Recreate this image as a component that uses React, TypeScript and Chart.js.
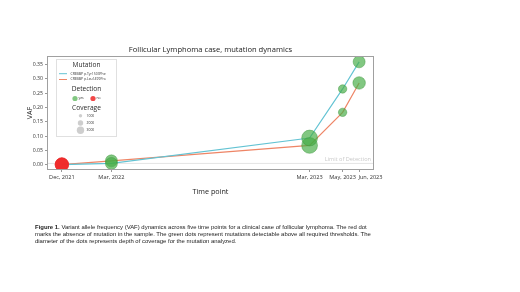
import React, { useEffect, useRef } from "react";
import { Chart, registerables } from "chart.js";

Chart.register(...registerables);

// ---- data ----
const timeLabels = ["Dec, 2021", "Mar, 2022", "Mar, 2023", "May, 2023", "Jun, 2023"];
const timeMonths = [0, 3, 15, 17, 18]; // months since Dec 2021
const vafTyr = [0, 0.004, 0.093, 0.265, 0.36];
const vafLeu = [0, 0.013, 0.067, 0.183, 0.286];
const detected = [false, true, true, true, true];
const coverageTyr = [2800, 2500, 3300, 1750, 2500];
const coverageLeu = [2800, 2500, 3300, 1750, 2600];
const yTicks = [0, 0.05, 0.1, 0.15, 0.2, 0.25, 0.3, 0.35];
const limitOfDetection = 0.004;
const seriesNames = ["CREBBP p.Tyr1503Phe", "CREBBP p.Leu1499Pro"];
const legendCoverage = [1000, 2000, 3000];
const detectionLabels = ["yes", "no"];

const TEAL = "#63c3d3";
const ORANGE = "#ee8566";
const GREEN = "rgba(70,172,70,0.68)";
const GREEN_BORDER = "rgba(60,150,60,0.75)";
const RED = "rgba(240,40,40,0.85)";
const FONT = "'Open Sans', 'Noto Sans', sans-serif";

const radiusOf = (c: number) => c * 0.0024;

const decorPlugin = {
  id: "decor",
  beforeDatasetsDraw(chart: any) {
    const { ctx, chartArea } = chart;
    const y = chart.scales.y.getPixelForValue(limitOfDetection);
    ctx.save();
    ctx.strokeStyle = "#e4e4e4";
    ctx.lineWidth = 1;
    ctx.beginPath();
    ctx.moveTo(chartArea.left, y);
    ctx.lineTo(chartArea.right, y);
    ctx.stroke();
    ctx.fillStyle = "#c9c9c9";
    ctx.font = `5.6px ${FONT}`;
    ctx.textAlign = "right";
    ctx.textBaseline = "middle";
    ctx.fillText("Limit of Detection", chartArea.right - 3, y - 4.3);
    ctx.restore();
  },
  afterDraw(chart: any) {
    const { ctx, chartArea } = chart;
    ctx.save();
    // frame
    ctx.strokeStyle = "#a0a0a0";
    ctx.lineWidth = 1;
    ctx.strokeRect(
      Math.round(chartArea.left) + 0.5,
      Math.round(chartArea.top) + 0.5,
      Math.round(chartArea.right - chartArea.left) - 1,
      Math.round(chartArea.bottom - chartArea.top) - 1
    );
    // x tick labels, nudged right when they would collide
    const xs = chart.scales.x;
    ctx.font = `5.6px ${FONT}`;
    ctx.fillStyle = "#333";
    ctx.textAlign = "center";
    ctx.textBaseline = "middle";
    let prevRight = -Infinity;
    timeMonths.forEach((m, i) => {
      const w = ctx.measureText(timeLabels[i]).width;
      let cxp = xs.getPixelForValue(m);
      if (cxp - w / 2 < prevRight + 2.5) cxp = prevRight + 2.5 + w / 2;
      ctx.fillText(timeLabels[i], cxp, chartArea.bottom + 7);
      prevRight = cxp + w / 2;
    });
    // legend box
    const bx = 56, by = 59, bw = 61, bh = 78;
    ctx.fillStyle = "rgba(255,255,255,0.95)";
    ctx.fillRect(bx, by, bw, bh);
    ctx.strokeStyle = "#e0e0e0";
    ctx.strokeRect(bx + 0.5, by + 0.5, bw - 1, bh - 1);
    const cx = bx + bw / 2;
    ctx.fillStyle = "#2a2a2a";
    ctx.textAlign = "center";
    ctx.textBaseline = "middle";
    ctx.font = `6.6px ${FONT}`;
    ctx.fillText("Mutation", cx, 65.5);
    ctx.fillText("Detection", cx, 89.5);
    ctx.fillText("Coverage", cx, 108);
    // series lines
    const lineColors = [TEAL, ORANGE];
    const lineYs = [73.7, 79.5];
    ctx.font = `3.4px ${FONT}`;
    ctx.textAlign = "left";
    seriesNames.forEach((n, i) => {
      ctx.strokeStyle = lineColors[i];
      ctx.lineWidth = 1;
      ctx.beginPath();
      ctx.moveTo(59, lineYs[i]);
      ctx.lineTo(67, lineYs[i]);
      ctx.stroke();
      ctx.fillStyle = "#333";
      ctx.fillText(n, 70.5, lineYs[i]);
    });
    // detection
    const detColors = [GREEN, RED];
    const detX = [75, 93];
    detectionLabels.forEach((l, i) => {
      ctx.fillStyle = detColors[i];
      ctx.beginPath();
      ctx.arc(detX[i], 98.5, 2.6, 0, Math.PI * 2);
      ctx.fill();
      ctx.fillStyle = "#333";
      ctx.fillText(l, detX[i] + 3.5, 98.5);
    });
    // coverage
    const covYs = [115.7, 123, 130.3];
    const covR = [1.7, 2.7, 3.7];
    legendCoverage.forEach((c, i) => {
      ctx.fillStyle = "rgba(190,190,190,0.75)";
      ctx.beginPath();
      ctx.arc(80.5, covYs[i], covR[i], 0, Math.PI * 2);
      ctx.fill();
      ctx.fillStyle = "#333";
      ctx.fillText(String(c), 86.5, covYs[i]);
    });
    ctx.restore();
  },
};

function dotDataset(vals: number[], cov: number[], name: string) {
  return {
    type: "scatter" as const,
    label: name + " dots",
    data: timeMonths.map((m, i) => ({ x: m, y: vals[i] })),
    pointRadius: cov.map(radiusOf),
    pointBackgroundColor: detected.map((d) => (d ? GREEN : RED)),
    pointBorderColor: detected.map((d) => (d ? GREEN_BORDER : "rgba(230,40,40,0.9)")),
    pointBorderWidth: 0.6,
    showLine: false,
    order: 0,
  };
}

function lineDataset(vals: number[], color: string, name: string) {
  return {
    type: "line" as const,
    label: name,
    data: timeMonths.map((m, i) => ({ x: m, y: vals[i] })),
    borderColor: color,
    borderWidth: 1.2,
    pointRadius: 0,
    fill: false,
    tension: 0,
    order: 1,
  };
}

export default function App() {
  const ref = useRef<HTMLCanvasElement | null>(null);
  useEffect(() => {
    if (!ref.current) return;
    const chart = new Chart(ref.current, {
      type: "scatter",
      data: {
        datasets: [
          lineDataset(vafTyr, TEAL, seriesNames[0]),
          lineDataset(vafLeu, ORANGE, seriesNames[1]),
          dotDataset(vafTyr, coverageTyr, seriesNames[0]),
          dotDataset(vafLeu, coverageLeu, seriesNames[1]),
        ] as any,
      },
      options: {
        animation: false,
        responsive: false,
        devicePixelRatio: 1,
        layout: { padding: { left: 0, right: 146, top: 0, bottom: 0 } },
        plugins: {
          legend: { display: false },
          tooltip: { enabled: false },
          title: {
            display: true,
            text: "Follicular Lymphoma case, mutation dynamics",
            fullSize: false,
            color: "#222",
            font: { family: FONT, size: 7.6, weight: "normal" },
            padding: { top: 45, bottom: 2 },
          },
        },
        scales: {
          x: {
            type: "linear",
            min: -0.9,
            max: 18.9,
            grid: { display: true, drawOnChartArea: false, drawTicks: true, tickLength: 2, color: "#999" },
            border: { display: false },
            afterBuildTicks: (axis: any) => {
              axis.ticks = timeMonths.map((v) => ({ value: v }));
            },
            afterFit: (axis: any) => {
              axis.height = 122;
            },
            ticks: {
              display: false,
              autoSkip: false,
              maxRotation: 0,
              callback: (v: any) => {
                const i = timeMonths.indexOf(Number(v));
                return i >= 0 ? timeLabels[i] : "";
              },
            },
            title: {
              display: true,
              text: "Time point",
              color: "#222",
              font: { family: FONT, size: 7.2 },
              padding: { top: 0, bottom: 95.7 },
            },
          },
          y: {
            type: "linear",
            min: -0.019,
            max: 0.38,
            grid: { display: true, drawOnChartArea: false, drawTicks: true, tickLength: 2, color: "#999" },
            border: { display: false },
            afterBuildTicks: (axis: any) => {
              axis.ticks = yTicks.map((v) => ({ value: v }));
            },
            afterFit: (axis: any) => {
              axis.width = 47;
            },
            ticks: {
              padding: 2,
              color: "#333",
              font: { family: FONT, size: 5.2 },
              callback: (v: any) => Number(v).toFixed(2),
            },
            title: {
              display: true,
              text: "VAF",
              color: "#222",
              font: { family: FONT, size: 7.2 },
              padding: { top: 25.7, bottom: 0 },
            },
          },
        },
      },
      plugins: [decorPlugin],
    });
    return () => chart.destroy();
  }, []);

  return (
    <div style={{ position: "absolute", left: 0, top: 0, width: 520, height: 292, background: "#fff" }}>
      <canvas ref={ref} width={520} height={292} style={{ display: "block" }} />
      <div
        style={{
          position: "absolute",
          left: 35,
          top: 223.5,
          fontFamily: "'Liberation Sans', Arial, sans-serif",
          fontSize: "5.95px",
          lineHeight: "7px",
          color: "#222",
          whiteSpace: "nowrap",
        }}
      >
        <div>
          <b>Figure 1.</b> Variant allele frequency (VAF) dynamics across five time points for a clinical case of follicular lymphoma. The red dot
        </div>
        <div>marks the absence of mutation in the sample. The green dots represent mutations detectable above all required thresholds. The</div>
        <div>diameter of the dots represents depth of coverage for the mutation analyzed.</div>
      </div>
    </div>
  );
}
